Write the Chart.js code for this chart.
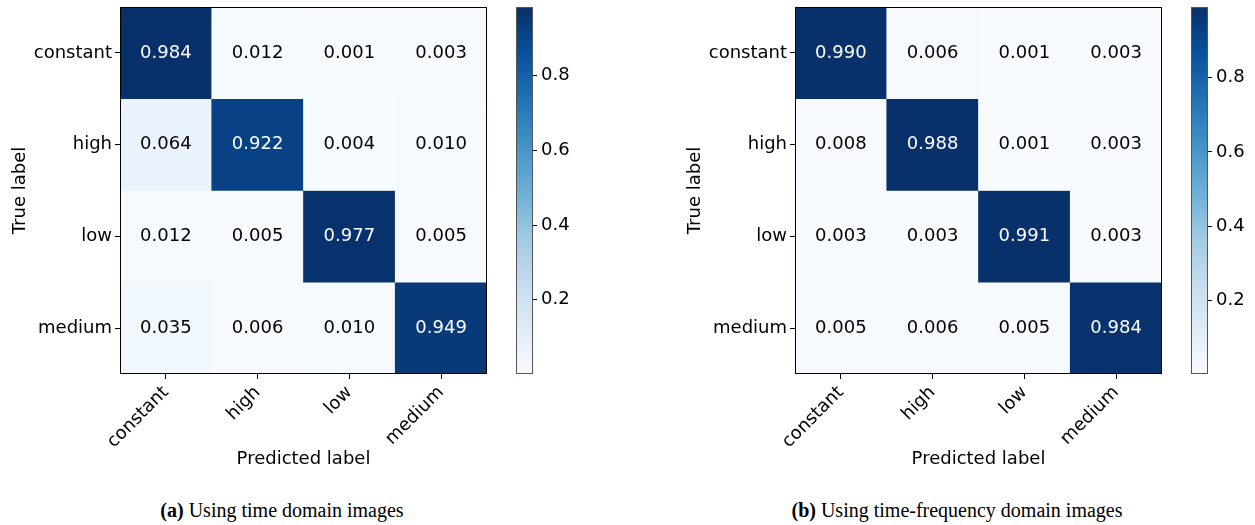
<!DOCTYPE html>
<html>
<head>
<meta charset="utf-8">
<script src="https://cdn.jsdelivr.net/npm/chart.js@4.4.1/dist/chart.umd.min.js"></script>
<style>
  body { margin: 0; background: #fff; width: 1255px; height: 525px; position: relative; overflow: hidden; }
  canvas { position: absolute; top: 0; }
  .caption { position: absolute; top: 498px; line-height: 24px; transform: translateX(-50%);
             font-family: 'Liberation Serif', 'Times New Roman', serif; font-size: 20px; color: #000; white-space: nowrap; }
</style>
</head>
<body>
<canvas id="cmTime" width="500" height="480" style="left:0;"></canvas>
<canvas id="cbTime" width="70" height="480" style="left:510px;"></canvas>
<canvas id="cmFreq" width="500" height="480" style="left:675px;"></canvas>
<canvas id="cbFreq" width="70" height="480" style="left:1185px;"></canvas>
<div class="caption" style="left:282px;"><b>(a)</b> Using time domain images</div>
<div class="caption" style="left:957px;"><b>(b)</b> Using time-frequency domain images</div>

<script>
// class names (rows = true label, columns = predicted label)
const classes = ['constant', 'high', 'low', 'medium'];

// normalized confusion matrix, time domain images
const timeDomain = [
  [0.984, 0.012, 0.001, 0.003],
  [0.064, 0.922, 0.004, 0.010],
  [0.012, 0.005, 0.977, 0.005],
  [0.035, 0.006, 0.010, 0.949]
];

// normalized confusion matrix, time-frequency domain images
const timeFreqDomain = [
  [0.990, 0.006, 0.001, 0.003],
  [0.008, 0.988, 0.001, 0.003],
  [0.003, 0.003, 0.991, 0.003],
  [0.005, 0.006, 0.005, 0.984]
];

const colorbarTicks = [0.2, 0.4, 0.6, 0.8];

// matplotlib "Blues" colormap stops
const blues = ['#f7fbff', '#deebf7', '#c6dbef', '#9ecae1', '#6baed6', '#4292c6', '#2171b5', '#08519c', '#08306b'];

Chart.defaults.font.family = "'DejaVu Sans', sans-serif";
Chart.defaults.font.size = 18;
Chart.defaults.color = '#000';

function hexToRgb(h) {
  return [1, 3, 5].map(i => parseInt(h.substr(i, 2), 16));
}

function bluesAt(t) {
  t = Math.max(0, Math.min(1, t));
  const pos = t * (blues.length - 1);
  const i = Math.min(Math.floor(pos), blues.length - 2);
  const f = pos - i;
  const a = hexToRgb(blues[i]), b = hexToRgb(blues[i + 1]);
  const c = a.map((v, k) => Math.round(v + (b[k] - v) * f));
  return `rgb(${c[0]},${c[1]},${c[2]})`;
}

// drop the extra room chart.js reserves for edge tick labels
function noEdgePadding(s) {
  s.paddingTop = 0;
  s.paddingBottom = 0;
  s.paddingLeft = 0;
  s.paddingRight = 0;
}

// outline around the plot area (all four spines)
function framePlugin(color) {
  return {
    id: 'frame',
    afterDraw(chart) {
      const { ctx, chartArea: a } = chart;
      ctx.save();
      ctx.strokeStyle = color;
      ctx.lineWidth = 1;
      ctx.strokeRect(Math.round(a.left) + 0.5, Math.round(a.top) + 0.5,
                     Math.round(a.right - a.left) - 1, Math.round(a.bottom - a.top) - 1);
      ctx.restore();
    }
  };
}

function matrixChart(id, matrix) {
  const flat = matrix.flat();
  const vmin = Math.min(...flat), vmax = Math.max(...flat);
  const thresh = vmax / 2;

  // one dataset per true-label row, each cell is a floating bar [row, row+1]
  const datasets = matrix.map((row, r) => ({
    label: classes[r],
    data: row.map(() => [r, r + 1]),
    values: row,
    backgroundColor: row.map(v => bluesAt((v - vmin) / (vmax - vmin))),
    borderWidth: 0,
    grouped: false,
    barPercentage: 1,
    categoryPercentage: 1
  }));

  const cellText = {
    id: 'cellText',
    afterDatasetsDraw(chart) {
      const ctx = chart.ctx;
      ctx.save();
      ctx.font = "18px 'DejaVu Sans', sans-serif";
      ctx.textAlign = 'center';
      ctx.textBaseline = 'middle';
      chart.data.datasets.forEach((ds, r) => {
        chart.getDatasetMeta(r).data.forEach((bar, c) => {
          const v = ds.values[c];
          ctx.fillStyle = v > thresh ? '#fff' : '#000';
          ctx.fillText(v.toFixed(3), bar.x, (bar.y + bar.base) / 2);
        });
      });
      ctx.restore();
    }
  };

  new Chart(document.getElementById(id), {
    type: 'bar',
    data: { labels: classes, datasets },
    options: {
      responsive: false,
      animation: false,
      layout: { padding: { top: 7, right: 13, left: 0, bottom: 0 } },
      plugins: { legend: { display: false }, tooltip: { enabled: false } },
      scales: {
        x: {
          grid: { offset: false, drawOnChartArea: false, tickLength: 5, color: '#000' },
          border: { display: false },
          ticks: { minRotation: 45, maxRotation: 45, padding: 3 },
          title: { display: true, text: 'Predicted label', padding: { top: 0, bottom: 10 } },
          afterFit: s => { s.height = 106; noEdgePadding(s); }
        },
        y: {
          min: 0,
          max: 4,
          reverse: true,
          afterBuildTicks: s => { s.ticks = classes.map((c, i) => ({ value: i + 0.5 })); },
          ticks: { padding: 3, callback: (v, i) => classes[i] },
          grid: { drawOnChartArea: false, tickLength: 5, color: '#000' },
          border: { display: false },
          title: { display: true, text: 'True label', padding: { top: 10, bottom: 0 } },
          afterFit: s => { s.width = 120; noEdgePadding(s); }
        }
      }
    },
    plugins: [cellText, framePlugin('#000')]
  });
}

function colorbar(id, matrix) {
  const flat = matrix.flat();
  const vmin = Math.min(...flat), vmax = Math.max(...flat);

  new Chart(document.getElementById(id), {
    type: 'bar',
    data: {
      labels: [''],
      datasets: [{
        data: [[vmin, vmax]],
        barPercentage: 1,
        categoryPercentage: 1,
        borderWidth: 0,
        backgroundColor: ctx => {
          const chart = ctx.chart;
          if (!chart.chartArea) return blues[0];
          const y = chart.scales.y;
          const g = chart.ctx.createLinearGradient(0, y.getPixelForValue(vmin), 0, y.getPixelForValue(vmax));
          blues.forEach((c, i) => g.addColorStop(i / (blues.length - 1), c));
          return g;
        }
      }]
    },
    options: {
      responsive: false,
      animation: false,
      layout: { padding: { left: 6, top: 7, bottom: 106, right: 0 } },
      plugins: { legend: { display: false }, tooltip: { enabled: false } },
      scales: {
        x: { display: false },
        y: {
          position: 'right',
          min: vmin,
          max: vmax,
          afterBuildTicks: s => { s.ticks = colorbarTicks.map(v => ({ value: v })); },
          ticks: { padding: 4, callback: v => v.toFixed(1) },
          grid: { drawOnChartArea: false, tickLength: 4, color: '#000' },
          border: { display: false },
          afterFit: s => { s.width = 47; noEdgePadding(s); }
        }
      }
    },
    plugins: [framePlugin('#555')]
  });
}

matrixChart('cmTime', timeDomain);
colorbar('cbTime', timeDomain);
matrixChart('cmFreq', timeFreqDomain);
colorbar('cbFreq', timeFreqDomain);
</script>
</body>
</html>
